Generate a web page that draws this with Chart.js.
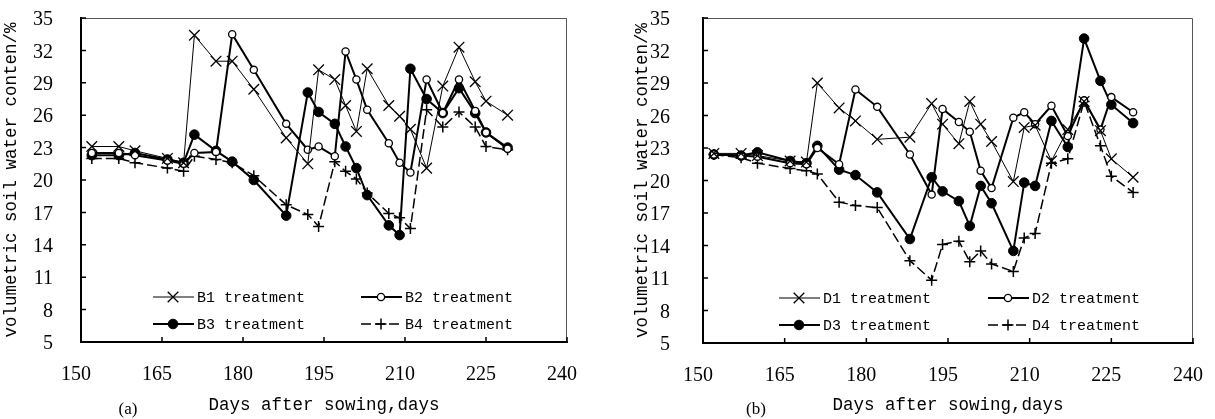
<!DOCTYPE html>
<html>
<head>
<meta charset="utf-8">
<script src="https://cdn.jsdelivr.net/npm/chart.js@4.4.1/dist/chart.umd.min.js"></script>
<style>
  html, body { margin: 0; padding: 0; background: #fff; }
  #wrap { position: relative; width: 1215px; height: 419px; }
  .box { position: absolute; top: 0; height: 419px; }
</style>
</head>
<body>
<div id="wrap">
  <div class="box" style="left:0;width:610px"><canvas id="chartA"></canvas></div>
  <div class="box" style="left:610px;width:605px"><canvas id="chartB"></canvas></div>
</div>
<script>
// sampling days (days after sowing)
const DAYS = [152, 157, 160, 166, 169, 171, 175, 178, 182, 188, 192, 194, 197,
              199, 201, 203, 207, 209, 211, 214, 217, 220, 223, 225, 229];

// panel (a)
const B1 = [23.1, 23.1, 22.7, 22.0, 21.6, 33.4, 31.0, 31.0, 28.4, 23.9, 21.5, 30.2, 29.3,
            26.9, 24.5, 30.3, 26.9, 25.9, 24.7, 21.1, 28.7, 32.3, 29.1, 27.3, 26.0];
const B2 = [22.5, 22.5, 22.3, 21.8, 21.5, 22.5, 22.6, 33.5, 30.2, 25.2, 22.8, 23.1, 22.2,
            31.9, 29.3, 26.5, 23.4, 21.6, 20.7, 29.3, 26.2, 29.3, 26.4, 24.4, 22.9];
const B3 = [22.3, 22.3, 22.5, 21.9, 21.6, 24.2, 22.7, 21.7, 20.0, 16.7, 28.1, 26.3, 25.2,
            23.1, 21.1, 18.6, 15.8, 14.9, 30.3, 27.5, 26.2, 28.5, 26.2, 24.4, 23.0];
const B4 = [22.0, 22.0, 21.6, 21.1, 20.8, 22.2, 21.9, 21.6, 20.4, 17.7, 16.8, 15.7, 21.7,
            20.8, 20.1, 18.8, 16.9, 16.5, 15.5, 26.5, 24.9, 26.3, 24.9, 23.1, 22.8];

// panel (b)
const D1 = [22.5, 22.5, 22.3, 21.8, 21.7, 29.0, 26.7, 25.5, 23.8, 24.0, 27.1, 25.2, 23.4,
            27.3, 25.2, 23.6, 19.9, 24.9, 25.1, 21.8, 24.7, 27.3, 24.6, 22.0, 20.3];
const D2 = [22.4, 22.3, 22.2, 21.6, 21.5, 23.0, 21.5, 28.4, 26.8, 22.4, 18.7, 26.6, 25.4,
            24.5, 20.9, 19.3, 25.8, 26.3, 25.2, 26.9, 24.1, 27.4, 24.7, 27.7, 26.3];
const D3 = [22.4, 22.3, 22.6, 21.8, 21.6, 23.2, 21.0, 20.5, 18.9, 14.6, 20.3, 19.0, 18.1,
            15.8, 19.5, 17.9, 13.5, 19.8, 19.5, 25.5, 23.1, 33.1, 29.2, 27.0, 25.3];
const D4 = [22.4, 22.1, 21.6, 21.1, 20.9, 20.6, 18.0, 17.7, 17.5, 12.6, 10.8, 14.1, 14.4,
            12.5, 13.5, 12.3, 11.6, 14.7, 15.1, 21.6, 22.0, 27.3, 23.2, 20.4, 18.9];

const X_MIN = 150, X_MAX = 240, X_STEP = 15;
const Y_MIN = 5, Y_MAX = 35, Y_STEP = 3;

const X_TITLE = "Days after sowing,days";
const Y_TITLE = "volumetric soil water conten/%";

// line / marker look of treatment 1..4
const STYLES = [
  { pointStyle: "crossRot", pointRadius: 7.5, borderWidth: 1,   pointBorderWidth: 1.3, fill: "#000", dash: [] },
  { pointStyle: "circle",   pointRadius: 3.6, borderWidth: 2,   pointBorderWidth: 1.3, fill: "#fff", dash: [] },
  { pointStyle: "circle",   pointRadius: 4.8, borderWidth: 2,   pointBorderWidth: 1,   fill: "#000", dash: [] },
  { pointStyle: "cross",    pointRadius: 5.5, borderWidth: 1.5, pointBorderWidth: 1.5, fill: "#000", dash: [10, 4] }
];

function drawMarker(ctx, style, x, y, r) {
  ctx.beginPath();
  if (style === "circle") {
    ctx.arc(x, y, r, 0, Math.PI * 2);
    ctx.fill();
    ctx.stroke();
  } else if (style === "crossRot") {
    const d = r * Math.SQRT1_2;
    ctx.moveTo(x - d, y - d); ctx.lineTo(x + d, y + d);
    ctx.moveTo(x + d, y - d); ctx.lineTo(x - d, y + d);
    ctx.stroke();
  } else {
    ctx.moveTo(x - r, y); ctx.lineTo(x + r, y);
    ctx.moveTo(x, y - r); ctx.lineTo(x, y + r);
    ctx.stroke();
  }
}

// thin box on top/right, inward tick marks
const frameTicks = {
  id: "frameTicks",
  afterDraw(chart) {
    const { ctx, chartArea: a } = chart;
    const x = chart.scales.x, y = chart.scales.y;
    ctx.save();
    ctx.strokeStyle = "#555";
    ctx.lineWidth = 1;
    ctx.beginPath();
    ctx.moveTo(a.left, a.top + 0.5);
    ctx.lineTo(a.right - 0.5, a.top + 0.5);
    ctx.lineTo(a.right - 0.5, a.bottom);
    ctx.stroke();
    ctx.strokeStyle = "#000";
    ctx.lineWidth = 1.5;
    ctx.beginPath();
    x.ticks.forEach(t => {
      const px = x.getPixelForValue(t.value);
      ctx.moveTo(px, a.bottom); ctx.lineTo(px, a.bottom - 5);
    });
    y.ticks.forEach(t => {
      const py = y.getPixelForValue(t.value);
      ctx.moveTo(a.left, py); ctx.lineTo(a.left + 5, py);
    });
    ctx.stroke();
    ctx.restore();
  }
};

// 2x2 legend inside the plot + panel tag
const boxLegend = {
  id: "boxLegend",
  afterDraw(chart, args, opts) {
    const { ctx, chartArea: a } = chart;
    ctx.save();
    chart.data.datasets.forEach((ds, i) => {
      const st = STYLES[i];
      const x0 = a.left + opts.cols[i % 2];
      const yy = a.bottom - opts.rows[Math.floor(i / 2)];
      ctx.strokeStyle = "#000";
      ctx.lineWidth = st.borderWidth;
      ctx.setLineDash(st.dash);
      ctx.beginPath();
      ctx.moveTo(x0, yy); ctx.lineTo(x0 + 41, yy);
      ctx.stroke();
      ctx.setLineDash([]);
      ctx.lineWidth = st.pointBorderWidth;
      ctx.fillStyle = st.fill;
      drawMarker(ctx, st.pointStyle, x0 + 20, yy, st.pointRadius);
      ctx.fillStyle = "#000";
      ctx.font = '15px "Liberation Mono"';
      ctx.textBaseline = "middle";
      ctx.textAlign = "left";
      ctx.fillText(ds.label, x0 + 44, yy + 1);
    });
    ctx.font = '17px "Liberation Serif"';
    ctx.textAlign = "center";
    ctx.textBaseline = "middle";
    ctx.fillText(opts.tag, a.left + opts.tagX, opts.tagY);
    ctx.restore();
  }
};

function makeChart(id, names, series, cfg) {
  const datasets = series.map((vals, i) => {
    const st = STYLES[i];
    return {
      label: names[i],
      data: DAYS.map((d, k) => ({ x: d, y: vals[k] })),
      borderColor: "#000",
      borderWidth: st.borderWidth,
      borderDash: st.dash,
      pointStyle: st.pointStyle,
      pointRadius: st.pointRadius,
      pointBorderWidth: st.pointBorderWidth,
      pointBorderColor: "#000",
      pointBackgroundColor: st.fill,
      tension: 0,
      fill: false
    };
  });

  return new Chart(document.getElementById(id), {
    type: "line",
    data: { datasets },
    options: {
      responsive: true,
      maintainAspectRatio: false,
      animation: false,
      events: [],
      layout: { padding: { left: cfg.padLeft, right: cfg.padRight, top: 18, bottom: 0 } },
      plugins: {
        legend: { display: false },
        tooltip: { enabled: false },
        boxLegend: { cols: cfg.cols, rows: [45, 18], tag: cfg.tag, tagX: cfg.tagX, tagY: 410 }
      },
      scales: {
        x: {
          type: "linear",
          min: X_MIN, max: X_MAX,
          afterFit: s => { s.height = cfg.xHeight; s.paddingLeft = 0; s.paddingRight = 0; },
          ticks: {
            stepSize: X_STEP,
            color: "#000",
            padding: 21,
            labelOffset: -5,
            font: { family: "Liberation Serif", size: 20 }
          },
          grid: { display: false, drawTicks: false },
          border: { color: "#000", width: 2 },
          title: {
            display: true,
            text: X_TITLE,
            color: "#000",
            font: { family: "Liberation Mono", size: 17.5 },
            padding: { top: 0, bottom: 3 }
          }
        },
        y: {
          min: Y_MIN, max: Y_MAX,
          afterFit: s => { s.width = cfg.yWidth; s.paddingTop = 0; s.paddingBottom = 0; },
          ticks: {
            stepSize: Y_STEP,
            color: "#000",
            padding: cfg.yPad,
            labelOffset: 2,
            font: { family: "Liberation Serif", size: 20 }
          },
          grid: { display: false, drawTicks: false },
          border: { color: "#000", width: 2 },
          title: {
            display: true,
            text: Y_TITLE,
            color: "#000",
            font: { family: "Liberation Mono", size: 17.5 },
            padding: { top: 1, bottom: 0 }
          }
        }
      }
    },
    plugins: [frameTicks, boxLegend]
  });
}

makeChart("chartA",
  ["B1 treatment", "B2 treatment", "B3 treatment", "B4 treatment"],
  [B1, B2, B3, B4],
  { padLeft: 0, padRight: 43, yWidth: 81, xHeight: 77, yPad: 28,
    cols: [72, 280], tag: "(a)", tagX: 47 });

makeChart("chartB",
  ["D1 treatment", "D2 treatment", "D3 treatment", "D4 treatment"],
  [D1, D2, D3, D4],
  { padLeft: 21, padRight: 22, yWidth: 72, xHeight: 76, yPad: 33,
    cols: [76, 285], tag: "(b)", tagX: 53 });
</script>
</body>
</html>
